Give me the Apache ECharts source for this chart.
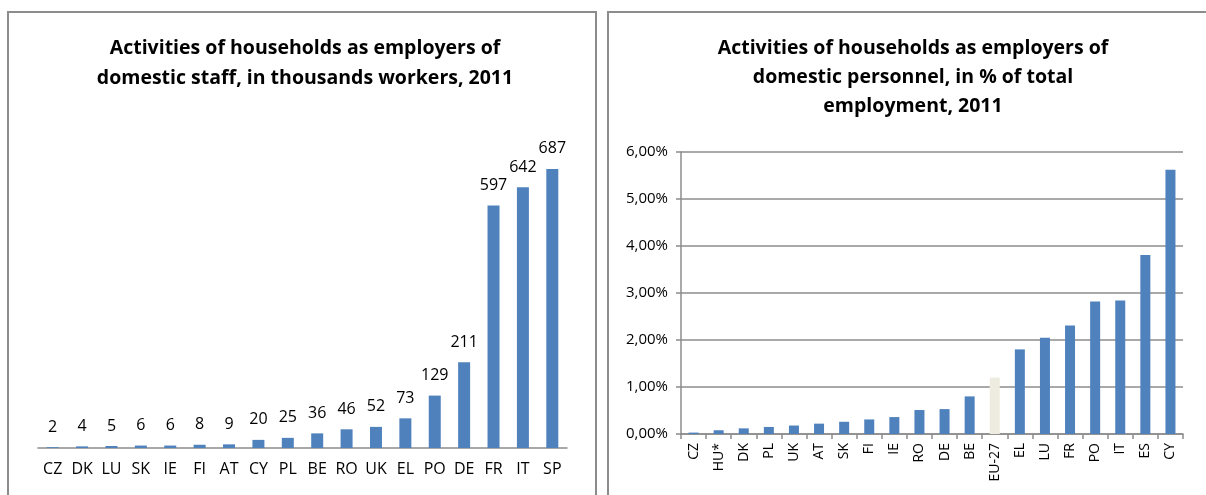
<!DOCTYPE html>
<html>
<head>
<meta charset="utf-8">
<script src="https://cdn.jsdelivr.net/npm/echarts@6/dist/echarts.min.js"></script>
<style>
  html, body { margin: 0; padding: 0; background: #ffffff; }
  #chart { width: 1206px; height: 495px; }
</style>
</head>
<body>
<div id="chart"></div>
<script>
// Domestic staff employed by households, thousands of workers, 2011
const staffCountries = ['CZ','DK','LU','SK','IE','FI','AT','CY','PL','BE','RO','UK','EL','PO','DE','FR','IT','SP'];
const staffThousands = [2, 4, 5, 6, 6, 8, 9, 20, 25, 36, 46, 52, 73, 129, 211, 597, 642, 687];

// Domestic personnel as % of total employment, 2011
const shareCountries = ['CZ','HU*','DK','PL','UK','AT','SK','FI','IE','RO','DE','BE','EU-27','EL','LU','FR','PO','IT','ES','CY'];
const sharePercent = [0.03, 0.08, 0.12, 0.15, 0.18, 0.22, 0.26, 0.31, 0.36, 0.51, 0.53, 0.80, 1.20, 1.80, 2.05, 2.31, 2.82, 2.84, 3.81, 5.62];
const shareTicks = [0, 1, 2, 3, 4, 5, 6];

const BLUE = '#4F81BD';
const EU_COLOR = '#EEECE1';
const GRID_GRAY = '#8C8C8C';
const FONT = '"Open Sans", sans-serif';

const chart = echarts.init(document.getElementById('chart'), null, { renderer: 'canvas' });

const option = {
  backgroundColor: '#ffffff',
  animation: false,
  graphic: [
    // panel frames
    { type: 'polyline', shape: { points: [[8, 500], [8, 12], [596, 12], [596, 500]] },
      style: { stroke: GRID_GRAY, lineWidth: 2, fill: null }, silent: true },
    { type: 'polyline', shape: { points: [[608, 500], [608, 12], [1210, 12]] },
      style: { stroke: GRID_GRAY, lineWidth: 2, fill: null }, silent: true }
  ],
  title: [
    {
      text: 'Activities of households as employers of\ndomestic staff, in thousands workers, 2011',
      left: 300, top: 28, textAlign: 'center',
      textStyle: { fontFamily: FONT, fontWeight: 'bold', fontSize: 19.5, lineHeight: 30, color: '#000' }
    },
    {
      text: 'Activities of households as employers of\ndomestic personnel, in % of total\nemployment, 2011',
      left: 908, top: 29, textAlign: 'center',
      textStyle: { fontFamily: FONT, fontWeight: 'bold', fontSize: 19.5, lineHeight: 29, color: '#000' }
    }
  ],
  grid: [
    { left: 38, width: 529, top: 123, height: 325 },
    { left: 681, width: 502, top: 152, height: 282 }
  ],
  xAxis: [
    {
      gridIndex: 0, type: 'category', data: staffCountries,
      axisLine: { lineStyle: { color: GRID_GRAY, width: 1.5 } },
      axisTick: { show: false },
      axisLabel: { fontFamily: FONT, fontSize: 16, color: '#000', margin: 13, interval: 0 }
    },
    {
      gridIndex: 1, type: 'category', data: shareCountries,
      axisLine: { lineStyle: { color: GRID_GRAY, width: 1.5 } },
      axisTick: { show: true, length: 5, lineStyle: { color: GRID_GRAY, width: 1.5 } },
      axisLabel: { fontFamily: FONT, fontSize: 14, color: '#000', rotate: 90, margin: 9, interval: 0 }
    }
  ],
  yAxis: [
    {
      gridIndex: 0, type: 'value', min: 0, max: 800, show: false,
      splitLine: { show: false }
    },
    {
      gridIndex: 1, type: 'value', min: shareTicks[0], max: shareTicks[shareTicks.length - 1], interval: 1,
      axisLine: { show: true, lineStyle: { color: GRID_GRAY, width: 1.5 } },
      axisTick: { show: true, length: 5, lineStyle: { color: GRID_GRAY, width: 1.5 } },
      splitLine: { lineStyle: { color: GRID_GRAY, width: 1.5 } },
      axisLabel: {
        fontFamily: FONT, fontSize: 15, color: '#000', margin: 13,
        formatter: v => v.toFixed(2).replace('.', ',') + '%'
      }
    }
  ],
  series: [
    {
      type: 'bar', xAxisIndex: 0, yAxisIndex: 0,
      data: staffThousands,
      barWidth: 12,
      itemStyle: { color: BLUE },
      label: { show: true, position: 'top', distance: 12, fontFamily: FONT, fontSize: 16, color: '#000' }
    },
    {
      type: 'bar', xAxisIndex: 1, yAxisIndex: 1,
      data: sharePercent.map((v, i) => ({
        value: v,
        itemStyle: { color: shareCountries[i] === 'EU-27' ? EU_COLOR : BLUE }
      })),
      barWidth: 10
    }
  ]
};

chart.setOption(option);
</script>
</body>
</html>
